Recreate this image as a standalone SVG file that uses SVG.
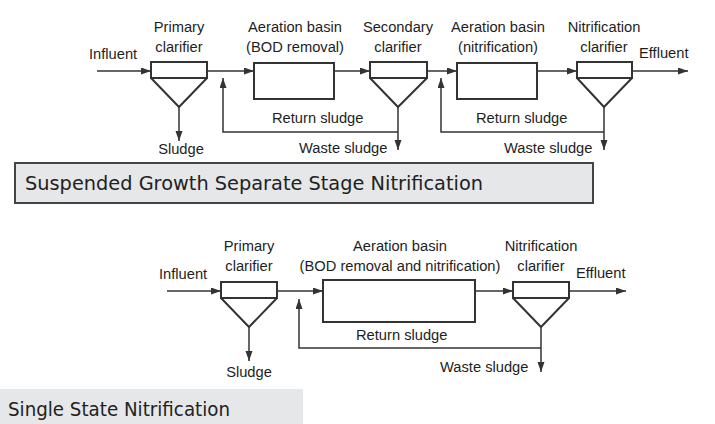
<svg xmlns="http://www.w3.org/2000/svg" width="715" height="424" viewBox="0 0 715 424">
<defs>
<marker id="ah" markerUnits="userSpaceOnUse" markerWidth="11" markerHeight="8" refX="10" refY="3.5" orient="auto">
<path d="M0,0 L10,3.5 L0,7 z" fill="#333"/>
</marker>
<style>
.n{fill:none;stroke:#333;stroke-width:2}
.c{fill:none;stroke:#333;stroke-width:1.5;marker-end:url(#ah)}
.t{font-family:"Liberation Sans",Arial,sans-serif;font-size:14.7px;fill:#1e1e1e}
.m{text-anchor:middle}
.h{font-family:"DejaVu Sans",sans-serif;fill:#222}
</style>
</defs>
<rect width="715" height="424" fill="#fff"/>

<!-- Top diagram -->
<g id="primary1">
<rect class="n" x="151" y="62" width="56" height="16"/>
<path class="n" d="M151,78 L179,107 L207,78"/>
<text class="t m" x="179" y="32">Primary</text>
<text class="t m" x="179" y="52">clarifier</text>
</g>
<g id="aeration1">
<rect class="n" x="254" y="63" width="80" height="36"/>
<text class="t m" x="295" y="32">Aeration basin</text>
<text class="t m" x="295" y="52">(BOD removal)</text>
</g>
<g id="secondary1">
<rect class="n" x="370" y="62" width="57" height="16"/>
<path class="n" d="M370,78 L398,107 L427,78"/>
<text class="t m" x="398" y="32">Secondary</text>
<text class="t m" x="398" y="52">clarifier</text>
</g>
<g id="aeration2">
<rect class="n" x="457" y="63" width="80" height="36"/>
<text class="t m" x="498" y="32">Aeration basin</text>
<text class="t m" x="498" y="52">(nitrification)</text>
</g>
<g id="nitclar1">
<rect class="n" x="577" y="62" width="55" height="16"/>
<path class="n" d="M577,78 L604,107 L632,78"/>
<text class="t m" x="604" y="32">Nitrification</text>
<text class="t m" x="604" y="52">clarifier</text>
</g>
<g id="labels1">
<text class="t" x="89" y="59">Influent</text>
<text class="t" x="639" y="58">Effluent</text>
<text class="t m" x="181" y="154">Sludge</text>
<text class="t" x="272" y="123">Return sludge</text>
<text class="t" x="299" y="153">Waste sludge</text>
<text class="t" x="476" y="123">Return sludge</text>
<text class="t" x="504" y="153">Waste sludge</text>
</g>
<g id="connectors1">
<path class="c" d="M97,71 H151"/>
<path class="c" d="M207,71 H254"/>
<path class="c" d="M179,107 V141"/>
<path class="c" d="M398,132 H223 V78"/>
<path class="c" d="M334,71 H370"/>
<path class="c" d="M398,107 V150"/>
<path class="c" d="M427,71 H457"/>
<path class="c" d="M604,132 H441 V78"/>
<path class="c" d="M537,71 H577"/>
<path class="c" d="M604,107 V150"/>
<path class="c" d="M632,71 H688"/>
</g>

<g id="title1">
<rect x="15" y="163" width="578" height="40" fill="#e6e7e9" stroke="#444" stroke-width="2"/>
<text class="h" x="25" y="190" font-size="20" textLength="458" lengthAdjust="spacingAndGlyphs">Suspended Growth Separate Stage Nitrification</text>
</g>

<!-- Bottom diagram -->
<g id="primary2">
<rect class="n" x="221" y="282" width="56" height="16"/>
<path class="n" d="M221,298 L249,327 L277,298"/>
<text class="t m" x="249" y="251">Primary</text>
<text class="t m" x="249" y="271">clarifier</text>
</g>
<g id="aeration3">
<rect class="n" x="323" y="280" width="152" height="42"/>
<text class="t m" x="400" y="251">Aeration basin</text>
<text class="t m" x="400" y="271">(BOD removal and nitrification)</text>
</g>
<g id="nitclar2">
<rect class="n" x="513" y="282" width="56" height="16"/>
<path class="n" d="M513,298 L541,327 L569,298"/>
<text class="t m" x="541" y="251">Nitrification</text>
<text class="t m" x="541" y="271">clarifier</text>
</g>
<g id="labels2">
<text class="t" x="159" y="279">Influent</text>
<text class="t" x="576" y="278">Effluent</text>
<text class="t m" x="249" y="377">Sludge</text>
<text class="t" x="356" y="340">Return sludge</text>
<text class="t" x="440" y="372">Waste sludge</text>
</g>
<g id="connectors2">
<path class="c" d="M167,291 H221"/>
<path class="c" d="M277,291 H323"/>
<path class="c" d="M249,327 V361"/>
<path class="c" d="M541,348 H299 V299"/>
<path class="c" d="M475,291 H513"/>
<path class="c" d="M541,327 V372"/>
<path class="c" d="M569,291 H626"/>
</g>

<g id="title2">
<rect x="0" y="389" width="303" height="35" fill="#e6e7e9"/>
<text class="h" x="8" y="416" font-size="19" textLength="222" lengthAdjust="spacingAndGlyphs">Single State Nitrification</text>
</g>
</svg>
